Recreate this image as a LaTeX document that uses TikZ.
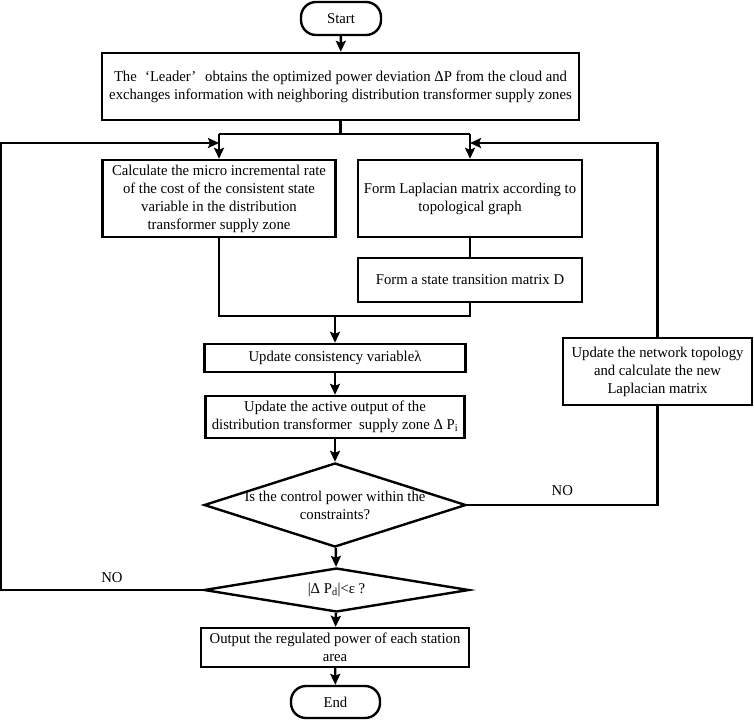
\documentclass[tikz,border=0pt]{standalone}
\usepackage{fontspec}
\setmainfont{Liberation Serif}[FakeStretch=0.98]
\usepackage{tikz}
\usetikzlibrary{shapes.geometric, arrows.meta, positioning, calc}

\begin{document}
\begin{tikzpicture}[
    x=1pt, y=-1pt,
    font=\fontsize{15}{18}\selectfont,
    line width=2.4pt,
    block/.style={
        rectangle, draw=black, line width=2.4pt, fill=white,
        align=center, inner sep=0pt
    },
    terminal/.style={
        rectangle, draw=black, line width=2.4pt, rounded corners=15pt,
        align=center, inner sep=0pt
    },
    decision/.style={
        diamond, draw=black, line width=2.4pt, inner sep=0pt
    },
    arrow/.style={-{Stealth[length=11pt,width=10pt,inset=2pt]}, line width=2.4pt, color=black}
]
\useasboundingbox (0,0) rectangle (754,721);

% Nodes
\node[terminal, minimum width=80pt, minimum height=33pt] (start) at (341,18.5) {Start};
\node[block, minimum width=477pt, minimum height=67pt] (leader) at (340.5,86.5)
    {The\hspace{0.55em}‘Leader’\hspace{0.6em}obtains the optimized power deviation ΔP from the cloud and\\
     exchanges information with neighboring distribution transformer supply zones};
\node[block, minimum width=233pt, minimum height=77pt] (calc) at (219,198.5)
    {Calculate the micro incremental rate\\of the cost of the consistent state\\variable in the distribution\\transformer supply zone};
\node[block, minimum width=224pt, minimum height=77pt] (lap) at (470,198.5)
    {Form Laplacian matrix according to\\topological graph};
\node[block, minimum width=224pt, minimum height=44pt] (matD) at (470,280)
    {Form a state transition matrix D};
\node[block, minimum width=261pt, minimum height=28pt] (lambda) at (335,358)
    {Update consistency variableλ};
\node[block, minimum width=259pt, minimum height=42pt] (active) at (335,417)
    {Update the active output of the\\distribution transformer\ \ supply zone Δ P\textsubscript{i}};
\node[decision, minimum width=262pt, minimum height=84pt,
    label={[align=center, name=checktext]center:Is the control power within the\\constraints?}] (check) at (335,505) {};
\node[block, minimum width=189pt, minimum height=67pt] (topo) at (657.5,371.5)
    {Update the network topology\\and calculate the new\\Laplacian matrix};
\node[decision, minimum width=265pt, minimum height=44pt,
    label={[name=convtext]center:|Δ P\textsubscript{d}|<ε ?}] (conv) at (336.5,590) {};
\node[block, minimum width=268pt, minimum height=39pt] (output) at (335,647.5)
    {Output the regulated power of each station\\area};
\node[terminal, minimum width=89pt, minimum height=32pt] (end) at (335.5,702) {End};

% Junctions
\coordinate (splitL) at (219,134);
\coordinate (splitR) at (470,134);
\coordinate (loopL) at (219,143);
\coordinate (loopR) at (470,143);
\coordinate (mergeL) at (219,316);
\coordinate (mergeR) at (470,316);
\coordinate (mergeC) at (335,316);

% Paths
\draw[arrow] (start) -- (leader);
\draw (leader.south) -- (leader.south |- splitL);
\draw (splitL) -- (splitR);
\draw[arrow] (splitL) -- (calc);
\draw[arrow] (splitR) -- (lap);

\draw (lap) -- (matD);
\draw (calc.south) -- (mergeL) -- (mergeR) -- (matD.south);
\draw[arrow] (mergeC) -- (lambda);
\draw[arrow] (lambda) -- (active);
\draw[arrow] (active) -- (check);
\draw[arrow] (check) -- (conv);
\draw[arrow] (conv) -- (output);
\draw[arrow] (output) -- (end);

\draw (check.east) -| node[pos=0.25, above=5pt]{NO} (topo.south);
\draw[arrow] (topo.north) |- (loopR);
\draw[arrow] (conv.west) -- node[above=3pt, pos=0.45]{NO} ++(-202,0) |- (loopL);

\end{tikzpicture}
\end{document}
